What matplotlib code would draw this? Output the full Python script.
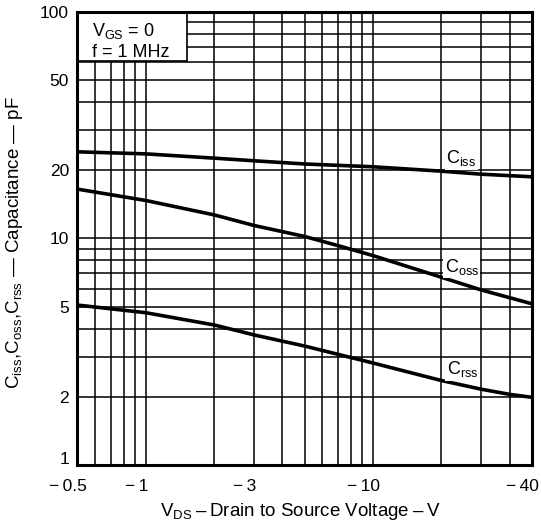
import matplotlib
matplotlib.use("Agg")
import matplotlib.pyplot as plt
import matplotlib.transforms as mtransforms
from matplotlib.patches import Rectangle

plt.rcParams['font.family'] = ['Liberation Sans', 'DejaVu Sans']
plt.rcParams['mathtext.fontset'] = 'custom'
plt.rcParams['mathtext.rm'] = 'Liberation Sans'
plt.rcParams['mathtext.it'] = 'Liberation Sans'

# |V_DS| in volts (axis runs 0.5 .. 50 on a log scale)
vds_ciss = [0.5, 1, 2, 3, 5, 10, 20, 30, 50]
ciss = [24.1, 23.6, 22.6, 22.0, 21.3, 20.7, 19.8, 19.2, 18.7]
vds_coss = [0.5, 1, 2, 3, 5, 7, 10, 20, 30, 50]
coss = [16.5, 14.7, 12.7, 11.4, 10.2, 9.3, 8.4, 6.74, 5.92, 5.15]
vds_crss = [0.5, 1, 2, 3, 5, 10, 20, 30, 40, 50]
crss = [5.08, 4.70, 4.15, 3.75, 3.35, 2.82, 2.36, 2.16, 2.05, 1.99]

x_ticks = [0.5, 1, 3, 10, 50]
x_labels = ['\u2212\u20090.5', '\u2212\u20091', '\u2212\u20093', '\u2212\u200910', '\u2212\u200940']
y_ticks = [1, 2, 5, 10, 20, 50, 100]
y_labels = ['1', '2', '5', '10', '20', '50', '100']

x_grid = [0.6, 0.7, 0.8, 0.9, 1, 2, 3, 4, 5, 6, 7, 8, 9, 10, 20, 30, 40]
y_grid = [2, 3, 4, 5, 6, 7, 8, 9, 10, 20, 30, 40, 50, 60, 70, 80, 90]

fig = plt.figure(figsize=(5.41, 5.32), dpi=100)
ax = fig.add_axes([0.1429, 0.1259, 0.8399, 0.852])
ax.set_xscale('log')
ax.set_yscale('log')
ax.set_xlim(0.5, 50)
ax.set_ylim(1, 100)

for g in x_grid:
    ax.axvline(g, color='black', lw=1.1, zorder=1)
for g in y_grid:
    ax.axhline(g, color='black', lw=1.1, zorder=1)

ax.plot(vds_ciss, ciss, color='black', lw=2.6, zorder=3)
ax.plot(vds_coss, coss, color='black', lw=2.6, zorder=3)
ax.plot(vds_crss, crss, color='black', lw=2.6, zorder=3)

ax.set_xticks(x_ticks)
ax.set_xticklabels(x_labels)
ax.set_yticks(y_ticks)
ax.set_yticklabels(y_labels)
ax.minorticks_off()
ax.tick_params(axis='both', length=0, labelsize=12.5)
ax.tick_params(axis='x', pad=10)
ax.tick_params(axis='y', pad=6)

# digits sit on the tick, the minus sign hangs to the left
shift = mtransforms.ScaledTranslation(-9 / 100, 0, fig.dpi_scale_trans)
for lab in ax.get_xticklabels():
    lab.set_transform(lab.get_transform() + shift)
up = mtransforms.ScaledTranslation(0, 7 / 100, fig.dpi_scale_trans)
lab1 = ax.get_yticklabels()[0]
lab1.set_transform(lab1.get_transform() + up)

for s in ax.spines.values():
    s.set_linewidth(2.2)
    s.set_zorder(5)

# condition box
ax.add_patch(Rectangle((0, 0.892), 0.241, 0.108, transform=ax.transAxes,
                       facecolor='white', edgecolor='black', lw=1.2, zorder=4))
ax.text(0.032, 0.957, r'V$_{\rm GS}$ = 0', transform=ax.transAxes, fontsize=13,
        va='center', ha='left', zorder=6)
ax.text(0.032, 0.911, 'f = 1 MHz', transform=ax.transAxes, fontsize=13,
        va='center', ha='left', zorder=6)

box = dict(facecolor='white', edgecolor='none', pad=1)
ax.text(24.5, 22.6, r'C$_{\rm iss}$', fontsize=13, ha='center', va='center', bbox=box, zorder=4)
ax.text(24.6, 7.48, r'C$_{\rm oss}$', fontsize=13, ha='center', va='center', bbox=box, zorder=4)
ax.text(24.8, 2.65, r'C$_{\rm rss}$', fontsize=13, ha='center', va='center', bbox=box, zorder=4)

ylab = r'C$_{\rm iss}$,C$_{\rm oss}$,C$_{\rm rss}$' + ' \u2014 Capacitance \u2014 pF'
fig.text(0.026, 0.543, ylab, rotation=90, fontsize=13.5, ha='center', va='center')
xlab = r'V$_{\rm DS}$' + '\u2009\u2013\u2009Drain to Source Voltage\u2009\u2013\u2009V'
fig.text(0.556, 0.038, xlab, fontsize=13.5, ha='center', va='center')

fig.savefig('out.png', dpi=100)
